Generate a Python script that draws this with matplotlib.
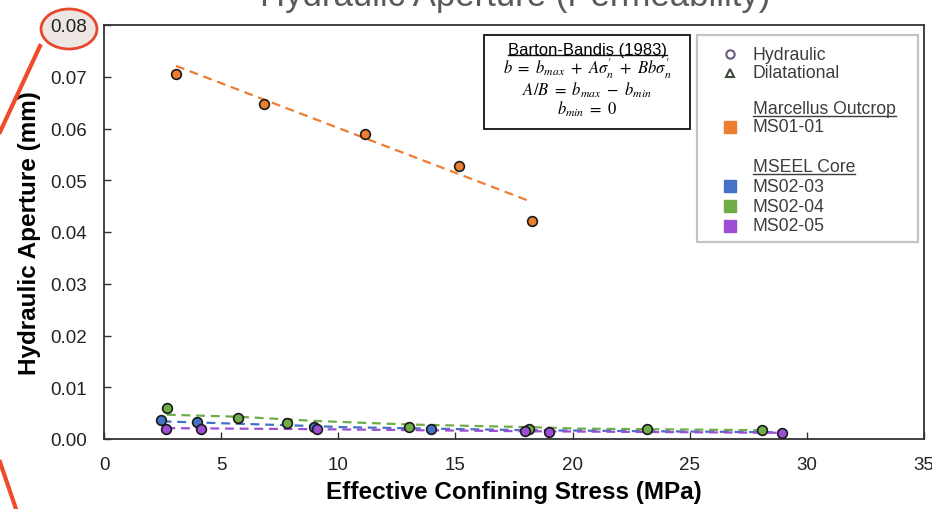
import numpy as np
import matplotlib
matplotlib.use("Agg")
import matplotlib.pyplot as plt
from matplotlib.patches import Rectangle, Ellipse
from matplotlib.lines import Line2D

plt.rcParams['font.family'] = ['Liberation Sans', 'DejaVu Sans']
plt.rcParams['mathtext.fontset'] = 'stix'

# ---- data ----
ms0101_x = [3.07, 6.82, 11.12, 15.17, 18.26]
ms0101_y = [0.0706, 0.0648, 0.0590, 0.0527, 0.0422]
ms0101_fit_x = [3.07, 18.26]
ms0101_fit_y = [0.0721, 0.0458]

ms0203_x = [2.43, 3.96, 8.97, 13.96]
ms0203_y = [0.0037, 0.0032, 0.0023, 0.0019]
ms0203_fit_x = [2.5, 8.97, 10.1, 13.96, 18.1, 28.7]
ms0203_fit_y = [0.0034, 0.0025, 0.0023, 0.0020, 0.0017, 0.0013]

ms0204_x = [2.68, 5.74, 7.80, 13.0, 18.13, 23.16, 28.1]
ms0204_y = [0.0060, 0.0040, 0.0030, 0.0023, 0.0020, 0.0019, 0.0017]
ms0204_fit_x = [2.68, 5.74, 8.97, 10.1, 13.0, 18.1, 20.3, 23.2, 28.0]
ms0204_fit_y = [0.0047, 0.0043, 0.0035, 0.0033, 0.0028, 0.0023, 0.0020, 0.0019, 0.0017]

ms0205_x = [2.66, 4.14, 9.09, 17.99, 19.01, 28.95]
ms0205_y = [0.0020, 0.0020, 0.0020, 0.0015, 0.0014, 0.0012]
ms0205_fit_x = [2.66, 8.97, 17.9, 28.8]
ms0205_fit_y = [0.0021, 0.0019, 0.0015, 0.0012]

c_orange = '#ed7d31'
c_blue = '#4472c4'
c_green = '#70ad47'
c_purple = '#9d4fd3'

fig = plt.figure(figsize=(9.32, 5.10), dpi=100)
ax = fig.add_axes([104/932, 1-440/510, 820/932, 414/510])

def series(xs, ys, fx, fy, col):
    ax.plot(fx, fy, color=col, lw=1.6, ls=(0, (4, 2.6)), zorder=2)
    ax.plot(xs, ys, 'o', ms=7, mfc=col, mec='#1a1a1a', mew=1.2, zorder=3)

series(ms0101_x, ms0101_y, ms0101_fit_x, ms0101_fit_y, c_orange)
series(ms0204_x, ms0204_y, ms0204_fit_x, ms0204_fit_y, c_green)
series(ms0203_x, ms0203_y, ms0203_fit_x, ms0203_fit_y, c_blue)
series(ms0205_x, ms0205_y, ms0205_fit_x, ms0205_fit_y, c_purple)

ax.set_xlim(0, 35)
ax.set_ylim(0, 0.08)
ax.set_xticks(np.arange(0, 36, 5))
ax.set_yticks(np.arange(0, 0.081, 0.01))
ax.set_yticklabels(['%.2f' % v for v in np.arange(0, 0.081, 0.01)])
ax.tick_params(direction='in', length=5, width=1, colors='#333333', labelsize=13.5,
               labelcolor='#222222')
ax.tick_params(axis='y', pad=12)
ax.tick_params(axis='x', pad=12)
for s in ax.spines.values():
    s.set_color('#333333')
    s.set_linewidth(1.3)

ax.set_xlabel('Effective Confining Stress (MPa)', fontsize=17.5, fontweight='bold', labelpad=5)
ax.set_ylabel('Hydraulic Aperture (mm)', fontsize=17.5, fontweight='bold', labelpad=7)

# title, mostly cut off at the top
fig.text(0.553, 0.988, 'Hydraulic Aperture (Permeability)', ha='center', va='baseline',
         fontsize=25, color='#5a5a5a')

# ---- equation box ----
def px(x, y):
    return (x/932, 1 - y/510)

bx0, by0 = px(484, 130)
bx1, by1 = px(690, 36)
fig.patches.append(Rectangle((bx0, by0), bx1-bx0, by1-by0, transform=fig.transFigure,
                             fill=True, fc='white', ec='#111111', lw=1.3, zorder=5))
cx = (bx0 + bx1) / 2
t_bb = fig.text(cx, px(0, 50)[1], 'Barton-Bandis (1983)', ha='center', va='center',
                fontsize=12, zorder=6)
fig.text(cx, px(0, 69)[1], r"$b\ =\ b_{max}\ +\ A\sigma_n'\ +\ Bb\sigma_n'$", ha='center',
         va='center', fontsize=12, zorder=6)
fig.text(cx, px(0, 90)[1], r"$A/B\ =\ b_{max}\ -\ b_{min}$", ha='center', va='center',
         fontsize=12, zorder=6)
fig.text(cx, px(0, 109)[1], r"$b_{min}\ =\ 0$", ha='center', va='center',
         fontsize=12, zorder=6)

# ---- legend (drawn by hand) ----
lx0, ly0 = px(697, 243)
lx1, ly1 = px(918, 36)
fig.patches.append(Rectangle((lx0, ly0), lx1-lx0, ly1-ly0, transform=fig.transFigure,
                             fill=True, fc='white', ec='#c4c4c4', lw=1.6, zorder=5))
mx = 730/932
tx = 753/932
txt_col = '#3d3d3d'
fig.lines.append(Line2D([mx], [px(0, 55)[1]], marker='o', ms=6, mfc='none', mec='#6a5a80',
                        mew=1.5, transform=fig.transFigure, zorder=6))
fig.lines.append(Line2D([mx], [px(0, 74)[1]], marker='^', ms=6, mfc='none', mec='#3e4a3a',
                        mew=1.5, transform=fig.transFigure, zorder=6))
leg_rows = [('Hydraulic', 55, None), ('Dilatational', 74, None),
            ('Marcellus Outcrop', 110, 'u'), ('MS01-01', 128, c_orange),
            ('MSEEL Core', 168, 'u'), ('MS02-03', 187, c_blue),
            ('MS02-04', 207, c_green), ('MS02-05', 227, c_purple)]
underline = []
for lab, yy, kind in leg_rows:
    t = fig.text(tx, px(0, yy)[1], lab, ha='left', va='center', fontsize=12.7,
                 color=txt_col, zorder=6)
    if kind == 'u':
        underline.append(t)
    elif kind is not None:
        fig.lines.append(Line2D([mx], [px(0, yy)[1]], marker='s', ms=8, mfc=kind, mec=kind,
                                transform=fig.transFigure, zorder=6))

# underlines under headings
fig.canvas.draw()
r = fig.canvas.get_renderer()
for t, col in [(t_bb, '#111111')] + [(u, txt_col) for u in underline]:
    bb = t.get_window_extent(r).transformed(fig.transFigure.inverted())
    yl = bb.y0 + 0.003
    fig.lines.append(Line2D([bb.x0, bb.x1], [yl, yl], color=col, lw=1.0,
                            transform=fig.transFigure, zorder=6))

# ---- red call-out annotation ----
ex, ey = px(69, 30)
fig.patches.append(Ellipse((ex, ey), 56/932, 40/510, transform=fig.transFigure,
                           fc='#ede6e3', ec='#e8472e', lw=2, zorder=-1))
for (xa, ya), (xb, yb) in [((40, 47), (0, 133)), ((0, 463), (16, 510))]:
    a = px(xa, ya)
    b = px(xb, yb)
    fig.lines.append(Line2D([a[0], b[0]], [a[1], b[1]], color='#f04b2c', lw=3,
                            transform=fig.transFigure, zorder=7))

fig.savefig('out.png', dpi=100)
